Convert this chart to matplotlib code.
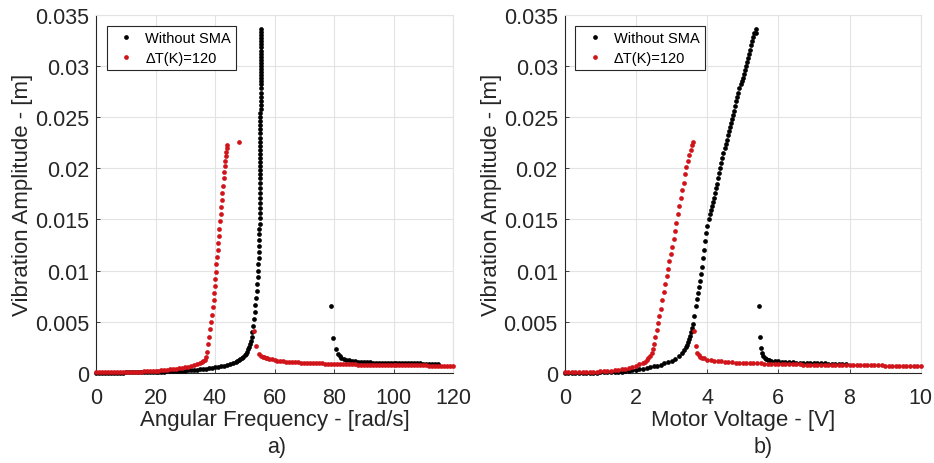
import matplotlib
matplotlib.use('Agg')
import matplotlib.pyplot as plt

# ---------------- data: panel a) amplitude vs angular frequency ----------------
freq_a_black = [
    0, 1, 2, 3, 4, 5, 6, 7, 8, 9,
    10, 11, 12, 13, 14, 15, 16, 17, 18, 19,
    20, 21, 22, 23, 24, 25, 26, 27, 28, 29,
    30, 31, 32, 33, 34, 35, 36, 37, 38, 39,
    40, 41, 42, 43, 44, 45, 46, 47,
    47.5, 48, 48.5, 49, 49.5, 50, 50.4, 50.8, 51.1, 51.4,
    51.7, 52.0, 52.3, 52.6, 52.9, 53.2, 53.4,
    53.6, 53.8, 54.0, 54.2, 54.35, 54.5, 54.6, 54.7,
    54.78, 54.84, 54.88, 54.92, 54.95, 54.98, 55.0, 55.02,
    55.04, 55.06, 55.08, 55.1, 55.11, 55.12, 55.13, 55.14,
    55.15, 55.16, 55.17, 55.18, 55.19, 55.2, 55.21, 55.22,
    55.23, 55.24, 55.25, 55.26, 55.27, 55.28, 55.29, 55.3,
    55.31, 55.32, 55.33, 55.34, 55.35, 55.35, 55.36, 55.36,
    55.37, 55.37, 55.38, 55.38, 55.39, 55.39, 55.4, 55.4,
    55.41, 55.41, 55.42, 55.42, 55.43, 55.43, 55.44, 55.44,
    78.9, 79.8, 80.7, 81.3, 81.9, 82.5, 83.2, 84, 85, 86,
    87, 88, 89, 90, 91, 92, 93, 94, 95, 96,
    97, 98, 99, 100, 101, 102, 103, 104, 105, 106,
    107, 108, 109, 110, 111, 112, 113, 114, 115,
]
amp_a_black = [
    0.00002, 0.00002, 0.00002, 0.00003, 0.00003, 0.00003, 0.00003, 0.00004, 0.00004, 0.00004,
    0.00005, 0.00005, 0.00006, 0.00006, 0.00007, 0.00007, 0.00008, 0.00009, 0.0001, 0.0001,
    0.00011, 0.00012, 0.00013, 0.00014, 0.00015, 0.00016, 0.00017, 0.00018, 0.0002, 0.00021,
    0.00023, 0.00025, 0.00027, 0.0003, 0.00032, 0.00035, 0.00038, 0.00042, 0.00046, 0.0005,
    0.00055, 0.0006, 0.00066, 0.00073, 0.0008, 0.00088, 0.00098, 0.0011,
    0.00117, 0.00125, 0.00135, 0.00145, 0.0016, 0.0018, 0.0019, 0.0021, 0.0023, 0.0025,
    0.0028, 0.0031, 0.0035, 0.004, 0.0046, 0.0053, 0.006,
    0.0066, 0.0073, 0.0080, 0.0087, 0.0094, 0.0100, 0.0106, 0.0112,
    0.0118, 0.0124, 0.0130, 0.0136, 0.0141, 0.0146, 0.0151, 0.0156,
    0.0161, 0.0166, 0.0171, 0.0176, 0.0181, 0.0186, 0.0190, 0.0194,
    0.0198, 0.0202, 0.0206, 0.0210, 0.0214, 0.0218, 0.0222, 0.0226,
    0.0230, 0.0234, 0.0238, 0.0242, 0.0246, 0.0250, 0.0254, 0.0258,
    0.0262, 0.0266, 0.0270, 0.0274, 0.0278, 0.0282, 0.0285, 0.0288,
    0.0291, 0.0294, 0.0297, 0.0300, 0.0303, 0.0306, 0.0309, 0.0312,
    0.0315, 0.0318, 0.0321, 0.0324, 0.0327, 0.0330, 0.0333, 0.0336,
    0.0065, 0.00345, 0.00234, 0.0019, 0.0017, 0.0015, 0.00138, 0.0013, 0.00123, 0.00118,
    0.00114, 0.00111, 0.00108, 0.00106, 0.00104, 0.00103, 0.00102, 0.00101, 0.001, 0.00099,
    0.00099, 0.00098, 0.00097, 0.00097, 0.00096, 0.00096, 0.00095, 0.00095, 0.00094, 0.00094,
    0.00093, 0.00093, 0.00093, 0.00092, 0.00092, 0.00091, 0.00091, 0.00091, 0.0009,
]

freq_a_red = [
    0, 1, 2, 3, 4, 5, 6, 7, 8, 9,
    10, 11, 12, 13, 14, 15, 16, 17, 18, 19,
    20, 21, 22, 23, 24, 25, 26, 27, 28, 29,
    30, 31, 32, 33, 34, 35, 35.5, 36, 36.5, 37,
    37.4, 37.75, 38.0, 38.3, 38.6, 38.9, 39.2, 39.5, 39.7, 39.9,
    40.1, 40.3, 40.5, 40.7, 40.9, 41.1, 41.3, 41.5, 41.7, 41.9,
    42.1, 42.3, 42.5, 42.7, 42.9, 43.1, 43.3, 43.5, 43.7, 43.85,
    44.0, 44.1, 48.2, 53.1, 53.8, 54.8, 55.5, 56, 56.5, 57,
    57.5, 58, 59, 60, 61, 62, 63, 64, 65, 66,
    67, 68, 69, 70, 71, 72, 73, 74, 75, 76,
    77, 78, 79, 80, 81, 82, 83, 84, 85, 86,
    87, 88, 89, 90, 91, 92, 93, 94, 95, 96,
    97, 98, 99, 100, 101, 102, 103, 104, 105, 106,
    107, 108, 109, 110, 111, 112, 113, 114, 115, 116,
    117, 118, 119, 120,
]
amp_a_red = [
    0.00005, 0.00005, 0.00005, 0.00005, 0.00006, 0.00006, 0.00007, 0.00007, 0.00008, 0.00009,
    0.0001, 0.0001, 0.00011, 0.00012, 0.00013, 0.00014, 0.00015, 0.00016, 0.00018, 0.0002,
    0.00022, 0.00024, 0.00026, 0.00029, 0.00032, 0.00035, 0.00038, 0.00042, 0.00046, 0.0005,
    0.00055, 0.0006, 0.00067, 0.00075, 0.00085, 0.00097, 0.00105, 0.00115, 0.0013, 0.0016,
    0.0021, 0.0028, 0.0035, 0.0043, 0.005, 0.0057, 0.0064, 0.0071, 0.0078, 0.0085,
    0.0092, 0.0099, 0.0106, 0.0113, 0.012, 0.0127, 0.0134, 0.0141, 0.0148, 0.0155,
    0.0162, 0.0169, 0.0176, 0.0183, 0.019, 0.0196, 0.0202, 0.0207, 0.0212, 0.0216,
    0.022, 0.0223, 0.0226, 0.0041, 0.0026, 0.00185, 0.0017, 0.0016, 0.00155, 0.0015,
    0.00145, 0.0014, 0.00132, 0.00126, 0.00122, 0.00118, 0.00115, 0.00112, 0.0011, 0.00108,
    0.00106, 0.00104, 0.00102, 0.001, 0.00099, 0.00097, 0.00096, 0.00095, 0.00094, 0.00093,
    0.00092, 0.00091, 0.0009, 0.00089, 0.00088, 0.00088, 0.00087, 0.00086, 0.00085, 0.00085,
    0.00084, 0.00083, 0.00083, 0.00082, 0.00082, 0.00081, 0.00081, 0.0008, 0.0008, 0.00079,
    0.00079, 0.00078, 0.00078, 0.00078, 0.00077, 0.00077, 0.00076, 0.00076, 0.00076, 0.00075,
    0.00075, 0.00075, 0.00074, 0.00074, 0.00074, 0.00073, 0.00073, 0.00073, 0.00072, 0.00072,
    0.00072, 0.00071, 0.00071, 0.0007,
]

# ---------------- data: panel b) amplitude vs motor voltage ----------------
volt_b_black = [
    0.0, 0.1, 0.2, 0.3, 0.4, 0.5, 0.6, 0.7, 0.8, 0.9,
    1.0, 1.1, 1.2, 1.3, 1.4, 1.5, 1.6, 1.7, 1.8, 1.9,
    2.0, 2.1, 2.2, 2.3, 2.4, 2.5, 2.6, 2.7, 2.8, 2.9,
    3.0, 3.1, 3.2, 3.3, 3.35, 3.4, 3.43, 3.46, 3.49, 3.52,
    3.55, 3.58, 3.61, 3.64, 3.68, 3.71, 3.74, 3.77, 3.80, 3.83,
    3.86, 3.89, 3.92, 3.95, 3.98, 4.01, 4.04, 4.07, 4.10, 4.13,
    4.16, 4.19, 4.22, 4.25, 4.28, 4.31, 4.34, 4.37, 4.40, 4.43,
    4.46, 4.49, 4.52, 4.55, 4.58, 4.61, 4.64, 4.67, 4.70, 4.73,
    4.76, 4.79, 4.82, 4.85, 4.88, 4.91, 4.94, 4.97, 5.00, 5.03,
    5.06, 5.09, 5.12, 5.15, 5.18, 5.21, 5.24, 5.27, 5.30, 5.33,
    5.36, 5.38, 5.45, 5.49, 5.52, 5.55, 5.58, 5.62, 5.66, 5.7,
    5.75, 5.8, 5.9, 6.0, 6.1, 6.2, 6.3, 6.4, 6.5, 6.6,
    6.7, 6.8, 6.9, 7.0, 7.1, 7.2, 7.3, 7.4, 7.5, 7.6,
    7.7, 7.8, 7.9,
]
amp_b_black = [
    0.00001, 0.00001, 0.00001, 0.00001, 0.00002, 0.00002, 0.00002, 0.00003, 0.00003, 0.00004,
    0.00005, 0.00006, 0.00007, 0.00008, 0.0001, 0.00011, 0.00013, 0.00016, 0.0002, 0.00025,
    0.0003, 0.00036, 0.00042, 0.0005, 0.00057, 0.00065, 0.00073, 0.00083, 0.00093, 0.00105,
    0.0012, 0.0014, 0.00165, 0.002, 0.0022, 0.0025, 0.0027, 0.003, 0.0033, 0.0036,
    0.004, 0.0044, 0.0048, 0.0056, 0.0065, 0.0072, 0.0078, 0.0084, 0.0090, 0.0097,
    0.0104, 0.0112, 0.0120, 0.0129, 0.0137, 0.0144, 0.0150, 0.0155, 0.0159, 0.0163,
    0.0167, 0.0171, 0.0176, 0.0181, 0.0185, 0.0190, 0.0195, 0.0200, 0.0205, 0.0210,
    0.0215, 0.0220, 0.0224, 0.0228, 0.0232, 0.0236, 0.0240, 0.0244, 0.0248, 0.0252,
    0.0256, 0.0261, 0.0266, 0.0270, 0.0274, 0.0278, 0.0282, 0.0285, 0.0288, 0.0292,
    0.0296, 0.0300, 0.0304, 0.0308, 0.0312, 0.0316, 0.0320, 0.0324, 0.0328, 0.0332,
    0.0336, 0.0332, 0.0065, 0.0035, 0.0024, 0.0020, 0.0017, 0.0015, 0.0014, 0.0013,
    0.00125, 0.0012, 0.00116, 0.00113, 0.0011, 0.00107, 0.00105, 0.00103, 0.00101, 0.001,
    0.00099, 0.00098, 0.00097, 0.00096, 0.00095, 0.00094, 0.00093, 0.00092, 0.00092, 0.00091,
    0.00091, 0.0009, 0.0009,
]

volt_b_red = [
    0.0, 0.1, 0.2, 0.3, 0.4, 0.5, 0.6, 0.7, 0.8, 0.9,
    1.0, 1.1, 1.2, 1.3, 1.4, 1.5, 1.6, 1.7, 1.8, 1.9,
    2.0, 2.1, 2.2, 2.25, 2.3, 2.35, 2.4, 2.44, 2.47, 2.50,
    2.54, 2.58, 2.62, 2.66, 2.70, 2.74, 2.78, 2.82, 2.86, 2.90,
    2.94, 2.98, 3.02, 3.06, 3.10, 3.14, 3.18, 3.22, 3.26, 3.30,
    3.34, 3.38, 3.42, 3.46, 3.50, 3.54, 3.58, 3.61, 3.64, 3.68,
    3.72, 3.76, 3.8, 3.85, 3.9, 4.0, 4.1, 4.2, 4.3, 4.4,
    4.5, 4.6, 4.7, 4.8, 4.9, 5.0, 5.1, 5.2, 5.3, 5.4,
    5.5, 5.6, 5.7, 5.8, 5.9, 6.0, 6.1, 6.2, 6.3, 6.4,
    6.5, 6.6, 6.7, 6.8, 6.9, 7.0, 7.1, 7.2, 7.3, 7.4,
    7.5, 7.6, 7.7, 7.8, 7.9, 8.0, 8.1, 8.2, 8.3, 8.4,
    8.5, 8.6, 8.7, 8.8, 8.9, 9.0, 9.1, 9.2, 9.3, 9.4,
    9.5, 9.6, 9.7, 9.8, 9.9, 10.0,
]
amp_b_red = [
    0.00005, 0.00005, 0.00006, 0.00006, 0.00007, 0.00008, 0.00009, 0.0001, 0.00011, 0.00013,
    0.00015, 0.00017, 0.0002, 0.00023, 0.00027, 0.00031, 0.00036, 0.00042, 0.0005, 0.0006,
    0.0007, 0.00085, 0.001, 0.0011, 0.0013, 0.0015, 0.0017, 0.002, 0.0023, 0.0028,
    0.0035, 0.0042, 0.0049, 0.0056, 0.0063, 0.0071, 0.0079, 0.0087, 0.0095, 0.0102,
    0.0109, 0.0116, 0.0123, 0.0131, 0.0139, 0.0147, 0.0155, 0.0163, 0.0171, 0.0179,
    0.0186, 0.0194, 0.0201, 0.0207, 0.0213, 0.0218, 0.0223, 0.0226, 0.0041, 0.0026,
    0.0020, 0.00175, 0.0016, 0.0015, 0.00142, 0.0013, 0.00125, 0.0012, 0.00116, 0.00113,
    0.0011, 0.00107, 0.00104, 0.00102, 0.001, 0.00098, 0.00097, 0.00096, 0.00095, 0.00094,
    0.00093, 0.00092, 0.00091, 0.0009, 0.00089, 0.00088, 0.00087, 0.00087, 0.00086, 0.00085,
    0.00085, 0.00084, 0.00083, 0.00083, 0.00082, 0.00082, 0.00081, 0.00081, 0.0008, 0.0008,
    0.00079, 0.00079, 0.00078, 0.00078, 0.00077, 0.00077, 0.00076, 0.00076, 0.00076, 0.00075,
    0.00075, 0.00075, 0.00074, 0.00074, 0.00074, 0.00073, 0.00073, 0.00073, 0.00072, 0.00072,
    0.00072, 0.00072, 0.00071, 0.00071, 0.00071, 0.0007,
]

series_labels = ['Without SMA', '\u0394T(K)=120']
y_ticks = [0, 0.005, 0.01, 0.015, 0.02, 0.025, 0.03, 0.035]
y_tick_labels = ['0', '0.005', '0.01', '0.015', '0.02', '0.025', '0.03', '0.035']
x_ticks_a = [0, 20, 40, 60, 80, 100, 120]
x_ticks_b = [0, 2, 4, 6, 8, 10]
x_labels = ['Angular Frequency - [rad/s]', 'Motor Voltage - [V]']
y_label = 'Vibration Amplitude - [m]'
panel_tags = ['a)', 'b)']

# ---------------- figure ----------------
plt.rcParams['font.family'] = ['Liberation Sans', 'DejaVu Sans']

W, H = 934, 464
fig = plt.figure(figsize=(W / 100, H / 100), dpi=100)
fig.patch.set_facecolor('white')

ax_a = fig.add_axes([96 / W, 90 / H, 357 / W, 358.3 / H])
ax_b = fig.add_axes([564.7 / W, 90 / H, 356 / W, 358.3 / H])

BLACK = '#000000'
RED = '#d0141a'
DARK = '#262626'
GRID = '#e3e3e3'
MS = 3.4

panels = [
    (ax_a, freq_a_black, amp_a_black, freq_a_red, amp_a_red, x_ticks_a, (0, 120), x_labels[0]),
    (ax_b, volt_b_black, amp_b_black, volt_b_red, amp_b_red, x_ticks_b, (0, 10), x_labels[1]),
]

for ax, xb, yb, xr, yr, xt, xlim, xl in panels:
    ax.plot(xb, yb, linestyle='none', marker='o', ms=MS, mew=0, color=BLACK,
            label=series_labels[0], clip_on=False, zorder=3)
    ax.plot(xr, yr, linestyle='none', marker='o', ms=MS, mew=0, color=RED,
            label=series_labels[1], clip_on=False, zorder=4)
    ax.set_xlim(*xlim)
    ax.set_ylim(0, 0.035)
    ax.set_xticks(xt)
    ax.set_xticklabels([str(v) for v in xt])
    ax.set_yticks(y_ticks)
    ax.set_yticklabels(y_tick_labels)
    ax.grid(True, color=GRID, linewidth=0.8)
    ax.set_axisbelow(True)
    for s in ['top', 'right']:
        ax.spines[s].set_color(GRID)
        ax.spines[s].set_linewidth(0.8)
    for s in ['left', 'bottom']:
        ax.spines[s].set_color(DARK)
        ax.spines[s].set_linewidth(0.8)
    ax.tick_params(direction='in', length=3, width=0.6, colors=DARK,
                   labelsize=15.5, labelcolor=DARK)
    ax.tick_params(axis='x', pad=10)
    ax.tick_params(axis='y', pad=5)
    ax.set_xlabel(xl, fontsize=16, color=DARK, labelpad=1)
    ax.set_ylabel(y_label, fontsize=16, color=DARK, labelpad=1)
    leg = ax.legend(loc='upper left', bbox_to_anchor=(0.03, 0.969), borderaxespad=0,
                    fontsize=10.5, numpoints=1, handlelength=2.0, handletextpad=0.3,
                    borderpad=0.35, labelspacing=0.4, fancybox=False, framealpha=1,
                    edgecolor=DARK, markerscale=1.0)
    leg.get_frame().set_linewidth(0.8)

fig.text(276.7 / W, 1 - 448 / H, panel_tags[0], ha='center', va='center', fontsize=15.5, color=DARK)
fig.text(763.3 / W, 1 - 448 / H, panel_tags[1], ha='center', va='center', fontsize=15.5, color=DARK)

fig.savefig('out.png', dpi=100, facecolor='white')
